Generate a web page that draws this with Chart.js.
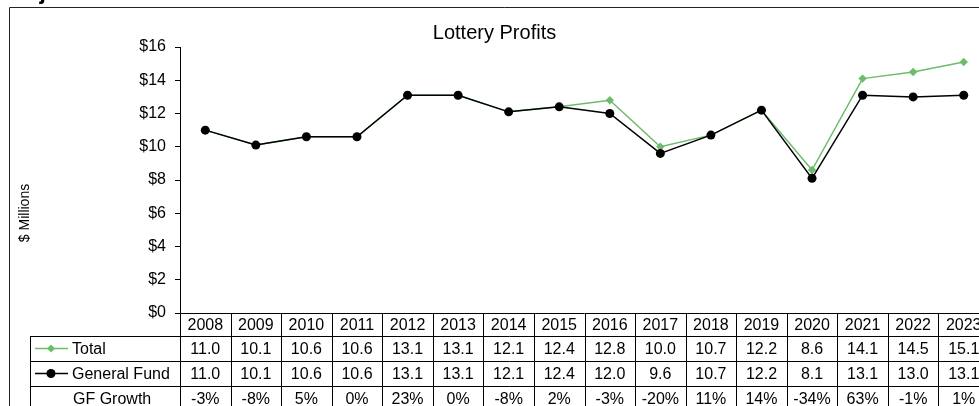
<!DOCTYPE html>
<html>
<head>
<meta charset="utf-8">
<script src="https://cdn.jsdelivr.net/npm/chart.js@4/dist/chart.umd.min.js"></script>
<style>
  html, body { margin: 0; padding: 0; background: #fff; overflow: hidden; }
  #wrap { width: 1000px; height: 420px; position: relative; }
  canvas { display: block; }
</style>
</head>
<body>
<div id="wrap"><canvas id="c" width="1000" height="420"></canvas></div>
<script>
// ---- data ----
const years = ['2008','2009','2010','2011','2012','2013','2014','2015','2016','2017','2018','2019','2020','2021','2022','2023'];
const totalValues = [11.0,10.1,10.6,10.6,13.1,13.1,12.1,12.4,12.8,10.0,10.7,12.2,8.6,14.1,14.5,15.1];
const generalFundValues = [11.0,10.1,10.6,10.6,13.1,13.1,12.1,12.4,12.0,9.6,10.7,12.2,8.1,13.1,13.0,13.1];
const gfGrowth = ['-3%','-8%','5%','0%','23%','0%','-8%','2%','-3%','-20%','11%','14%','-34%','63%','-1%','1%'];
const yTicks = [0,2,4,6,8,10,12,14,16];
const chartTitle = 'Lottery Profits';
const yTitle = '$ Millions';
const headingText = 'Projected';
const rowLabels = ['Total', 'General Fund', 'GF Growth'];

const GREEN = '#6cbc6c';
const FONT = "'Liberation Sans', Arial, sans-serif";
Chart.defaults.font.family = FONT;
Chart.defaults.color = '#000';

const tablePlugin = {
  id: 'tablePlugin',
  afterDraw(chart) {
    const ctx = chart.ctx;
    const xs = chart.scales.x;
    const area = chart.chartArea;
    const n = years.length;
    const w = (area.right - area.left) / n;
    const rowTop = area.bottom;
    const rows = [rowTop, rowTop + 23, rowTop + 48, rowTop + 73, rowTop + 98];
    const legLeft = 30;
    ctx.save();

    // outer chart border (partially visible)
    ctx.strokeStyle = '#222';
    ctx.lineWidth = 1;
    ctx.beginPath();
    ctx.moveTo(9.5, 430); ctx.lineTo(9.5, 7.5); ctx.lineTo(1000, 7.5);
    ctx.stroke();

    // cut-off heading
    ctx.fillStyle = '#000';
    ctx.font = "bold 23px " + FONT;
    ctx.textAlign = 'right';
    ctx.textBaseline = 'alphabetic';
    ctx.fillText(headingText, 106, -1);

    // y axis title
    ctx.save();
    ctx.translate(25, 213);
    ctx.rotate(-Math.PI / 2);
    ctx.font = "14px " + FONT;
    ctx.textAlign = 'center';
    ctx.textBaseline = 'middle';
    ctx.fillText(yTitle, 0, 0);
    ctx.restore();

    // table grid
    ctx.strokeStyle = '#000';
    ctx.lineWidth = 1;
    ctx.beginPath();
    ctx.moveTo(area.left, Math.round(rows[0]) + 0.5);
    ctx.lineTo(area.right, Math.round(rows[0]) + 0.5);
    for (let r = 1; r < rows.length; r++) {
      const y = Math.round(rows[r]) + 0.5;
      ctx.moveTo(legLeft, y); ctx.lineTo(area.right, y);
    }
    ctx.moveTo(legLeft + 0.5, Math.round(rows[1]) + 0.5);
    ctx.lineTo(legLeft + 0.5, rows[4] + 5);
    for (let i = 0; i <= n; i++) {
      const x = Math.round(area.left + i * w) + 0.5;
      ctx.moveTo(x, Math.round(rows[0]));
      ctx.lineTo(x, rows[4] + 5);
    }
    ctx.stroke();

    // cell texts
    ctx.font = "16px " + FONT;
    ctx.textAlign = 'center';
    ctx.textBaseline = 'middle';
    for (let i = 0; i < n; i++) {
      const cx = xs.getPixelForValue(i);
      ctx.fillText(years[i], cx, (rows[0] + rows[1]) / 2 + 1);
      ctx.fillText(totalValues[i].toFixed(1), cx, (rows[1] + rows[2]) / 2 + 1);
      ctx.fillText(generalFundValues[i].toFixed(1), cx, (rows[2] + rows[3]) / 2 + 1);
      ctx.fillText(gfGrowth[i], cx, (rows[3] + rows[4]) / 2 + 1);
    }

    // row labels with legend keys
    ctx.textAlign = 'left';
    const yT = (rows[1] + rows[2]) / 2;
    const yG = (rows[2] + rows[3]) / 2;
    const yR = (rows[3] + rows[4]) / 2;
    ctx.fillText(rowLabels[0], 72, yT + 1);
    ctx.fillText(rowLabels[1], 72, yG + 1);
    ctx.fillText(rowLabels[2], 73, yR + 1);

    ctx.strokeStyle = GREEN; ctx.lineWidth = 1.5;
    ctx.beginPath(); ctx.moveTo(35, yT); ctx.lineTo(68, yT); ctx.stroke();
    ctx.fillStyle = GREEN;
    ctx.beginPath();
    ctx.moveTo(51, yT - 4); ctx.lineTo(55, yT); ctx.lineTo(51, yT + 4); ctx.lineTo(47, yT);
    ctx.closePath(); ctx.fill();
    ctx.strokeStyle = '#000'; ctx.fillStyle = '#000';
    ctx.beginPath(); ctx.moveTo(35, yG); ctx.lineTo(68, yG); ctx.stroke();
    ctx.beginPath(); ctx.arc(51, yG, 4.5, 0, Math.PI * 2); ctx.fill();

    ctx.restore();
  }
};

new Chart(document.getElementById('c'), {
  type: 'line',
  data: {
    labels: years,
    datasets: [
      {
        label: 'Total',
        data: totalValues,
        borderColor: GREEN,
        backgroundColor: GREEN,
        borderWidth: 1.5,
        pointStyle: 'rectRot',
        pointRadius: 4.2,
        pointBorderWidth: 0,
        tension: 0,
        order: 2
      },
      {
        label: 'General Fund',
        data: generalFundValues,
        borderColor: '#000',
        backgroundColor: '#000',
        borderWidth: 1.5,
        pointStyle: 'circle',
        pointRadius: 4.5,
        pointBorderWidth: 0,
        tension: 0,
        order: 1
      }
    ]
  },
  options: {
    responsive: false,
    animation: false,
    devicePixelRatio: 1,
    layout: { padding: { left: 0, top: 0, right: 11, bottom: 107 } },
    plugins: {
      legend: { display: false },
      tooltip: { enabled: false },
      title: {
        display: true,
        text: chartTitle,
        color: '#000',
        font: { size: 20, weight: 'normal', family: FONT },
        padding: { top: 21, bottom: 2 }
      }
    },
    scales: {
      x: {
        type: 'category',
        display: false,
        offset: true
      },
      y: {
        min: 0,
        max: 16,
        afterBuildTicks: (s) => { s.ticks = yTicks.map(v => ({ value: v })); },
        afterFit: (s) => { s.width = 180; },
        ticks: {
          callback: (v) => '$' + v,
          color: '#000',
          font: { size: 16, family: FONT },
          padding: 9
        },
        grid: {
          display: true,
          drawOnChartArea: false,
          drawTicks: true,
          tickLength: 5,
          color: '#000',
          lineWidth: 1
        },
        border: { display: true, color: '#000', width: 1 }
      }
    }
  },
  plugins: [tablePlugin]
});
</script>
</body>
</html>
